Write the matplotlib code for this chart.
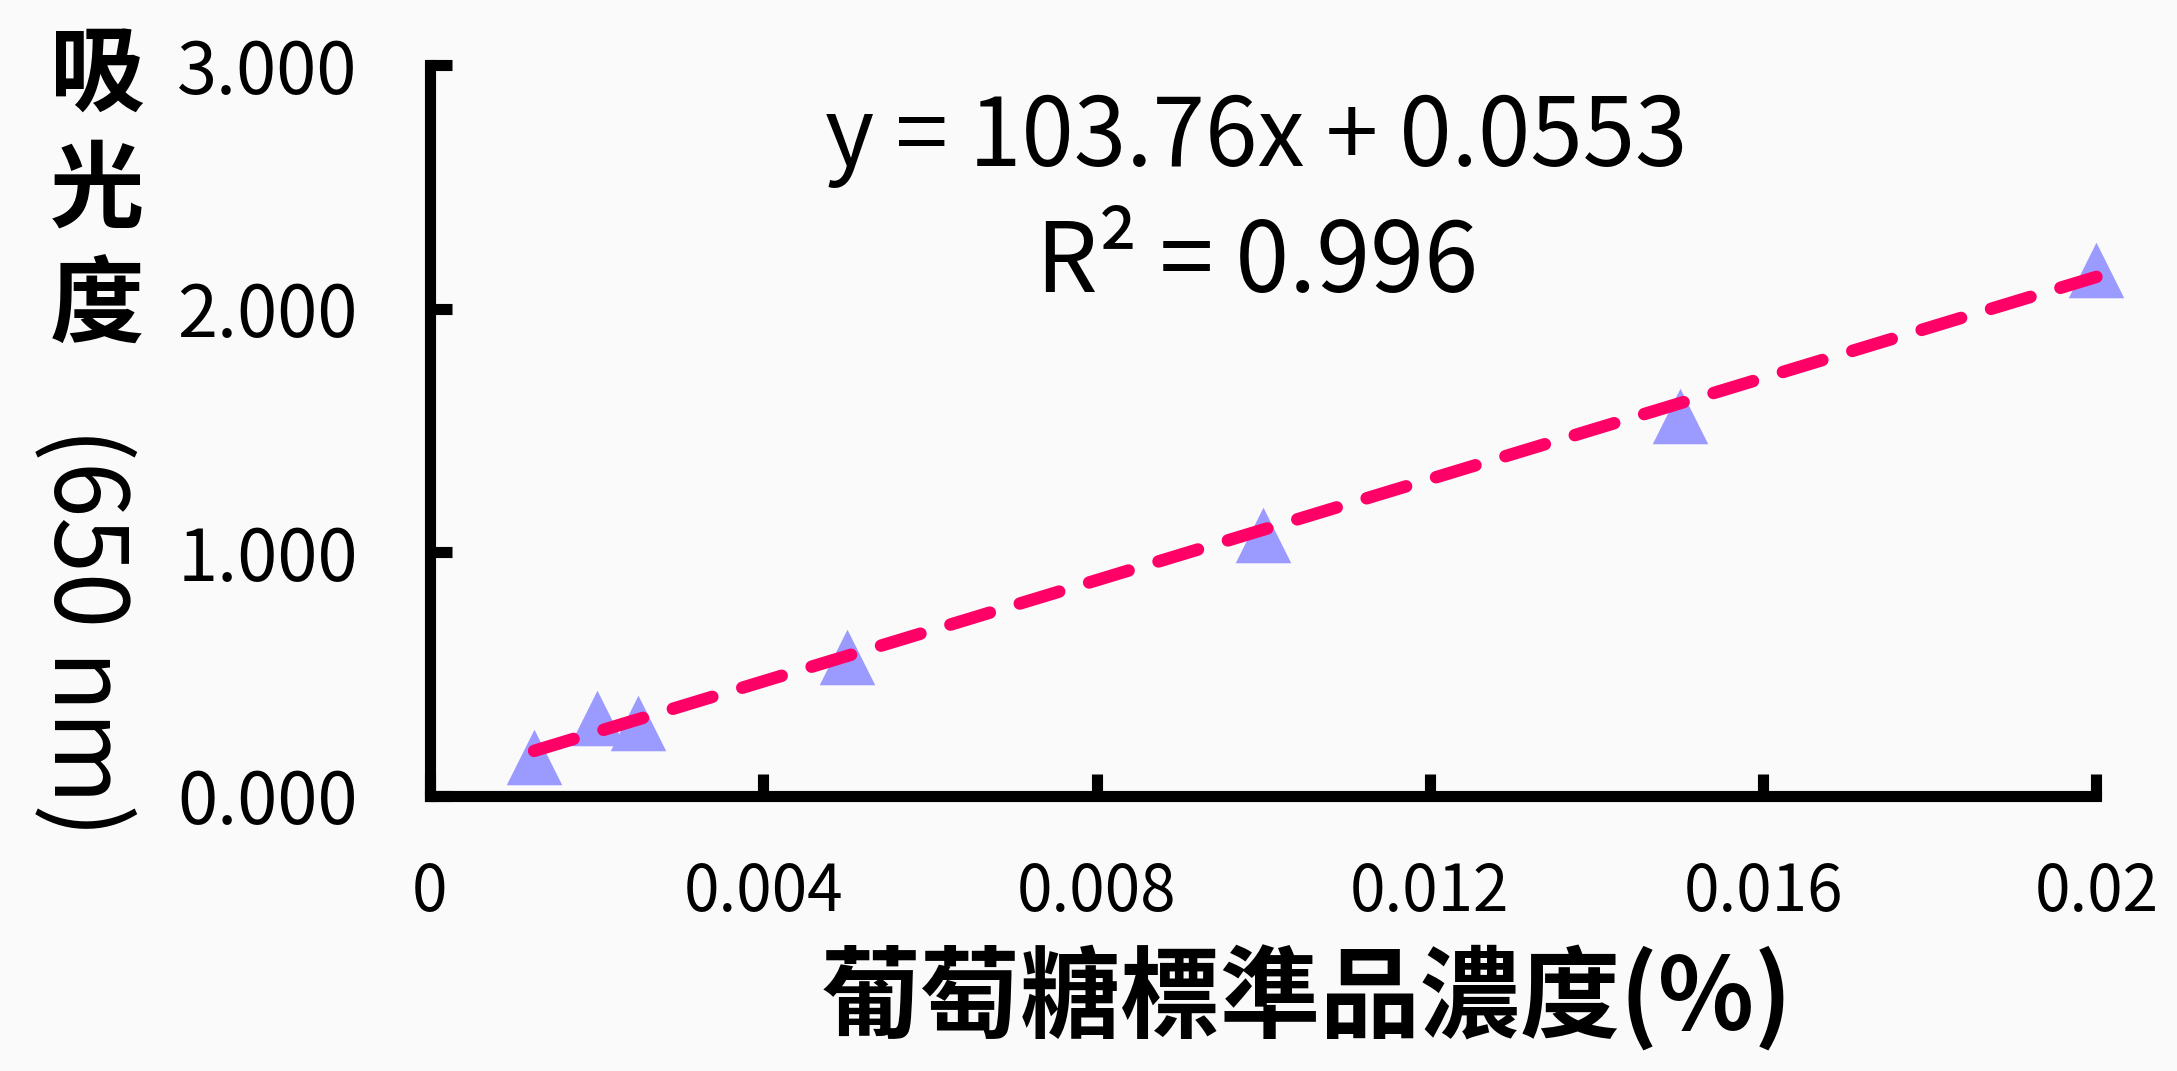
import numpy as np
import matplotlib.pyplot as plt

plt.rcParams['font.family'] = ['Noto Sans CJK TC', 'DejaVu Sans']

# 數據
conc = [0.00125, 0.002, 0.0025, 0.005, 0.010, 0.015, 0.020]
absorb = [0.16, 0.32, 0.30, 0.57, 1.07, 1.56, 2.16]
slope = 103.76
intercept = 0.0553
r2 = 0.996
xticks = [0, 0.004, 0.008, 0.012, 0.016, 0.02]
xticklabels = ['0', '0.004', '0.008', '0.012', '0.016', '0.02']
yticks = [0, 1, 2, 3]
yticklabels = ['0.000', '1.000', '2.000', '3.000']

fig = plt.figure(figsize=(21.77, 10.71), dpi=100)
fig.patch.set_facecolor('#FAFAFA')
ax = fig.add_axes([0.1975, 0.2568, 0.7655, 0.6825])
ax.set_facecolor('none')

ax.scatter(conc, absorb, marker='^', s=40**2, color='#9B9BFF', zorder=2,
           linewidths=0, clip_on=False)

xl = np.array([min(conc), max(conc)])
ax.plot(xl, slope * xl + intercept, color='#FF0066', lw=9,
        dashes=(3.3, 2.5), dash_capstyle='round', zorder=3, clip_on=False)

ax.set_xlim(0, 0.02)
ax.set_ylim(0, 3)
ax.set_xticks(xticks)
ax.set_xticklabels(xticklabels)
ax.set_yticks(yticks)
ax.set_yticklabels(yticklabels)

for s in ['top', 'right']:
    ax.spines[s].set_visible(False)
for s in ['left', 'bottom']:
    ax.spines[s].set_linewidth(8)
ax.tick_params(direction='in', length=16, width=8)
ax.tick_params(axis='x', pad=46, labelsize=46)
ax.tick_params(axis='y', pad=52, labelsize=52)

ax.text(0.496, 0.899, 'y = 103.76x + 0.0553', transform=ax.transAxes,
        ha='center', va='center', fontsize=68)
ax.text(0.496, 0.728, 'R² = %.3f' % r2, transform=ax.transAxes,
        ha='center', va='center', fontsize=70)

fig.text(0.6, 0.067, '葡萄糖標準品濃度(%)', ha='center', va='center',
         fontsize=72, fontweight='bold')
for ch, yy in zip('吸光度', [76, 192, 308]):
    fig.text(97 / 2177, 1 - yy / 1071, ch, ha='center', va='center',
             fontsize=68, fontweight='bold')
fig.text(83 / 2177, 1 - 632 / 1071, '(650 nm)', ha='center', va='center',
         fontsize=72, rotation=-90)

fig.savefig('out.png', dpi=100, facecolor=fig.get_facecolor())
